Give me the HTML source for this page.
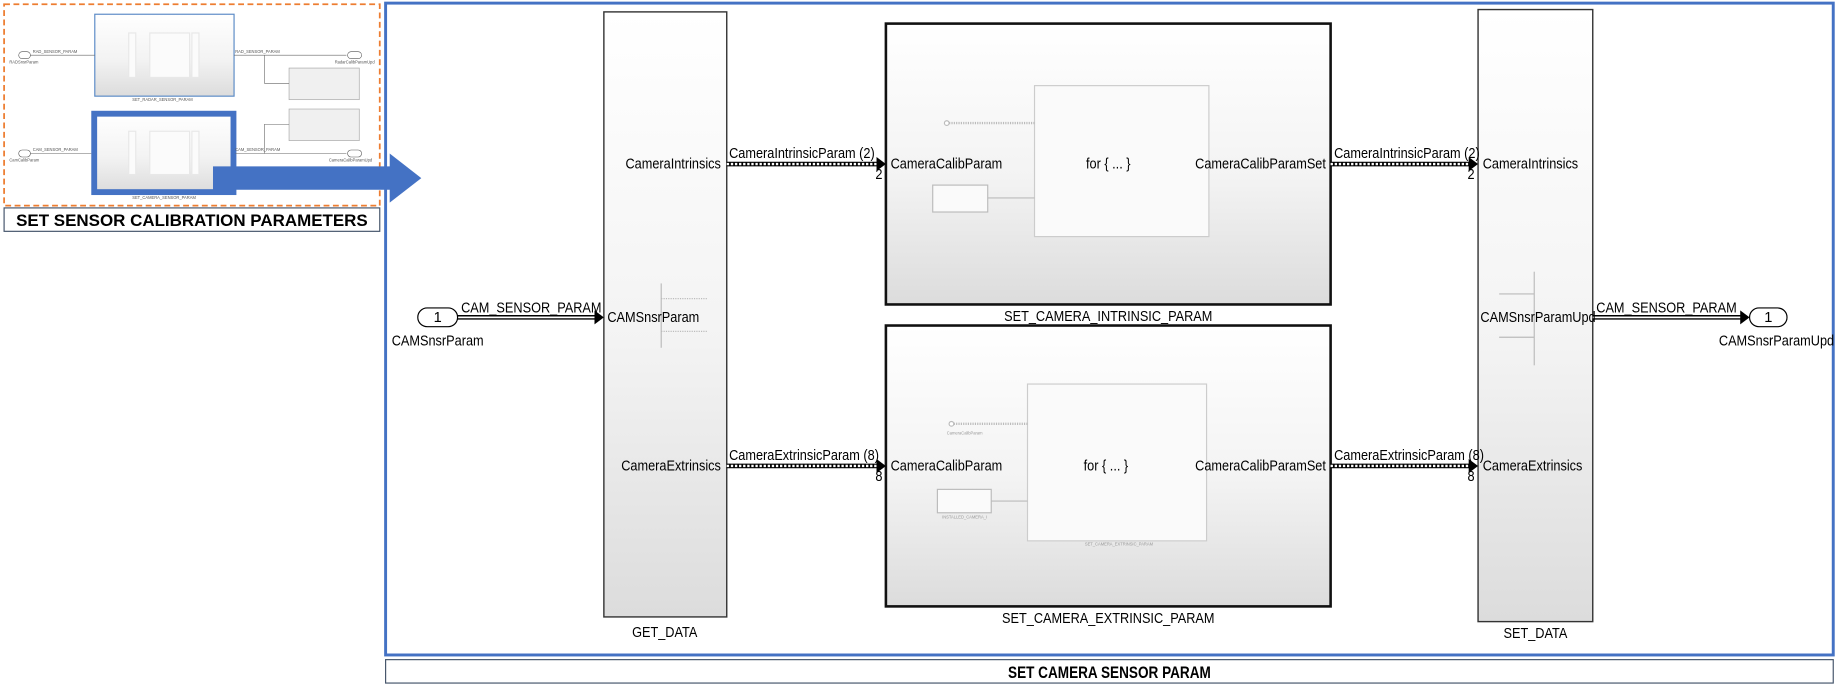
<!DOCTYPE html>
<html><head><meta charset="utf-8"><style>
html,body{margin:0;padding:0;background:#fff;}
svg{display:block;font-family:"Liberation Sans",Arial,sans-serif;}
</style></head><body>
<svg width="1835" height="685" viewBox="0 0 1568 585" xmlns="http://www.w3.org/2000/svg">
<defs>
<linearGradient id="g" x1="0" y1="0" x2="0" y2="1"><stop offset="0" stop-color="#ffffff"/><stop offset="0.55" stop-color="#f3f3f3"/><stop offset="1" stop-color="#dcdcdc"/></linearGradient>
</defs>
<rect width="1568" height="585" fill="#fff"/>

<rect x="3.5" y="3.5" width="321" height="172" fill="none" stroke="#ED7D31" stroke-width="1.5" stroke-dasharray="5,3"/>
<rect x="3.5" y="177.5" width="321" height="20" fill="#fff" stroke="#44546A" stroke-width="1"/>
<text x="164" y="193" font-size="14.5" font-weight="bold" text-anchor="middle">SET SENSOR CALIBRATION PARAMETERS</text>
<rect x="81" y="12" width="119" height="70" fill="url(#g)" stroke="#5a8ac6" stroke-width="1"/>
<rect x="110" y="28" width="6" height="38" fill="#fbfbfb" stroke="#e8e8e8"/><rect x="128" y="28" width="34" height="38" fill="#fbfbfb" stroke="#e8e8e8"/><rect x="164" y="28" width="6" height="38" fill="#fbfbfb" stroke="#e8e8e8"/>
<rect x="80.5" y="97" width="119" height="67" fill="url(#g)" stroke="#4472C4" stroke-width="5"/>
<rect x="110" y="112" width="6" height="37" fill="#fbfbfb" stroke="#e8e8e8"/><rect x="128" y="112" width="34" height="37" fill="#fbfbfb" stroke="#e8e8e8"/><rect x="164" y="112" width="6" height="37" fill="#fbfbfb" stroke="#e8e8e8"/>
<rect x="247" y="58" width="60" height="27" fill="#f0f0f0" stroke="#aaa" stroke-width="0.6"/>
<rect x="247" y="93" width="60" height="27" fill="#f0f0f0" stroke="#aaa" stroke-width="0.6"/>
<g stroke="#666" stroke-width="0.5" fill="none">
<line x1="26" y1="47" x2="81" y2="47"/><line x1="200" y1="47" x2="296" y2="47"/>
<line x1="26" y1="131" x2="78" y2="131"/><line x1="201" y1="131" x2="296" y2="131"/>
<polyline points="226,47 226,71 247,71"/><polyline points="226,131 226,106 247,106"/>
</g>
<rect x="16" y="44" width="10" height="6" rx="3" fill="#fff" stroke="#555" stroke-width="0.5"/>
<rect x="16" y="128" width="10" height="6" rx="3" fill="#fff" stroke="#555" stroke-width="0.5"/>
<rect x="297" y="44" width="12" height="6" rx="3" fill="#fff" stroke="#555" stroke-width="0.5"/>
<rect x="297" y="128" width="12" height="6" rx="3" fill="#fff" stroke="#555" stroke-width="0.5"/>
<g font-size="3.5" fill="#555">
<text x="28" y="45">RAD_SENSOR_PARAM</text><text x="8" y="54">RADSnsrParam</text>
<text x="28" y="129">CAM_SENSOR_PARAM</text><text x="8" y="138">CamCalibParam</text>
<text x="201" y="45">RAD_SENSOR_PARAM</text><text x="286" y="54">RadarCalibParamUpd</text>
<text x="201" y="129">CAM_SENSOR_PARAM</text><text x="281" y="138">CameraCalibParamUpd</text>
<text x="113" y="86">SET_RADAR_SENSOR_PARAM</text><text x="113" y="170">SET_CAMERA_SENSOR_PARAM</text>
</g>
<path d="M182,142 L333,142 L333,131 L360,152 L333,173 L333,162 L182,162 z" fill="#4472C4"/>

<rect x="329.5" y="2.5" width="1237" height="557" fill="none" stroke="#4472C4" stroke-width="2.5"/>
<rect x="329.5" y="563.5" width="1237" height="20" fill="#fff" stroke="#44546A" stroke-width="1"/>
<text transform="translate(948,579) scale(0.8,1)" font-size="14.5" font-weight="bold" text-anchor="middle">SET CAMERA SENSOR PARAM</text>

<rect x="516" y="10" width="105" height="517" fill="url(#g)" stroke="#333" stroke-width="1.2"/>
<rect x="1263" y="8" width="98" height="523" fill="url(#g)" stroke="#333" stroke-width="1.2"/>
<rect x="757" y="20" width="380" height="240" fill="url(#g)" stroke="#111" stroke-width="2.2"/>
<rect x="757" y="278" width="380" height="240" fill="url(#g)" stroke="#111" stroke-width="2.2"/>
<rect x="884" y="73" width="149" height="129" fill="#fafafa" stroke="#ccc"/>
<rect x="878" y="328" width="153" height="134" fill="#fafafa" stroke="#ccc"/>
<rect x="797" y="158" width="47" height="23" fill="#fafafa" stroke="#bbb"/>
<rect x="801" y="418" width="46" height="20" fill="#fafafa" stroke="#bbb"/>
<g stroke="#bbb" stroke-width="1" fill="none">
<line x1="844" y1="169" x2="884" y2="169"/><line x1="847" y1="428" x2="878" y2="428"/>
<line x1="811" y1="105" x2="884" y2="105" stroke-dasharray="1,1" stroke-width="2"/>
<line x1="815" y1="362" x2="878" y2="362" stroke-dasharray="1,1" stroke-width="2"/>
<line x1="565" y1="242" x2="565" y2="297"/><line x1="565" y1="255" x2="605" y2="255" stroke-dasharray="1,1"/><line x1="565" y1="283" x2="605" y2="283" stroke-dasharray="1,1"/>
<line x1="1311" y1="232" x2="1311" y2="312"/><line x1="1281" y1="251" x2="1311" y2="251"/><line x1="1281" y1="288" x2="1311" y2="288"/>
</g>
<circle cx="809" cy="105" r="2" fill="#fff" stroke="#bbb"/>
<circle cx="813" cy="362" r="2" fill="#fff" stroke="#bbb"/>

<g fill="none">
<g stroke="#000" stroke-width="4">
<line x1="621" y1="140" x2="750" y2="140"/><line x1="1137" y1="140" x2="1256" y2="140"/>
<line x1="621" y1="398" x2="750" y2="398"/><line x1="1137" y1="398" x2="1256" y2="398"/>
<line x1="391" y1="271" x2="509" y2="271"/><line x1="1361" y1="271" x2="1488" y2="271"/>
</g>
<g stroke="#fff" stroke-width="2" stroke-dasharray="2,1.5">
<line x1="621" y1="140" x2="750" y2="140"/><line x1="1137" y1="140" x2="1256" y2="140"/>
<line x1="621" y1="398" x2="750" y2="398"/><line x1="1137" y1="398" x2="1256" y2="398"/>
</g>
<g stroke="#fff" stroke-width="1.5">
<line x1="391" y1="271" x2="509" y2="271"/><line x1="1361" y1="271" x2="1488" y2="271"/>
</g>
</g>
<g fill="#000">
<path d="M749,134 L757,140 L749,146 z"/><path d="M1255,134 L1263,140 L1255,146 z"/>
<path d="M749,392 L757,398 L749,404 z"/><path d="M1255,392 L1263,398 L1255,404 z"/>
<path d="M508,265 L516,271 L508,277 z"/><path d="M1487,265 L1495,271 L1487,277 z"/>
</g>
<rect x="357" y="263" width="34" height="16" rx="8" fill="#fff" stroke="#000"/>
<rect x="1495" y="263" width="32" height="16" rx="8" fill="#fff" stroke="#000"/>

<g font-size="12.5" fill="#000">
<text x="374" y="275" text-anchor="middle">1</text><text x="1511" y="275" text-anchor="middle">1</text>
<text transform="translate(374,295) scale(0.87,1)" text-anchor="middle">CAMSnsrParam</text>
<text transform="translate(1518,295) scale(0.87,1)" text-anchor="middle">CAMSnsrParamUpd</text>
<text transform="translate(394,267) scale(0.87,1)">CAM_SENSOR_PARAM</text>
<text transform="translate(1364,267) scale(0.87,1)">CAM_SENSOR_PARAM</text>
<text transform="translate(616,144) scale(0.87,1)" text-anchor="end">CameraIntrinsics</text>
<text transform="translate(519,275) scale(0.87,1)">CAMSnsrParam</text>
<text transform="translate(616,402) scale(0.87,1)" text-anchor="end">CameraExtrinsics</text>
<text transform="translate(623,135) scale(0.87,1)">CameraIntrinsicParam (2)</text>
<text transform="translate(623,393) scale(0.87,1)">CameraExtrinsicParam (8)</text>
<text transform="translate(748,153) scale(0.87,1)">2</text><text transform="translate(748,411) scale(0.87,1)">8</text>
<text transform="translate(1140,135) scale(0.87,1)">CameraIntrinsicParam (2)</text>
<text transform="translate(1140,393) scale(0.87,1)">CameraExtrinsicParam (8)</text>
<text transform="translate(1254,153) scale(0.87,1)">2</text><text transform="translate(1254,411) scale(0.87,1)">8</text>
<text transform="translate(761,144) scale(0.87,1)">CameraCalibParam</text>
<text transform="translate(761,402) scale(0.87,1)">CameraCalibParam</text>
<text transform="translate(1133,144) scale(0.87,1)" text-anchor="end">CameraCalibParamSet</text>
<text transform="translate(1133,402) scale(0.87,1)" text-anchor="end">CameraCalibParamSet</text>
<text transform="translate(947,144) scale(0.87,1)" text-anchor="middle">for { ... }</text>
<text transform="translate(945,402) scale(0.87,1)" text-anchor="middle">for { ... }</text>
<text transform="translate(1267,144) scale(0.87,1)">CameraIntrinsics</text>
<text transform="translate(1267,402) scale(0.87,1)">CameraExtrinsics</text>
<text transform="translate(1265,275) scale(0.87,1)">CAMSnsrParamUpd</text>
<text transform="translate(947,274) scale(0.87,1)" text-anchor="middle">SET_CAMERA_INTRINSIC_PARAM</text>
<text transform="translate(947,532) scale(0.87,1)" text-anchor="middle">SET_CAMERA_EXTRINSIC_PARAM</text>
<text transform="translate(568,544) scale(0.87,1)" text-anchor="middle">GET_DATA</text>
<text transform="translate(1312,545) scale(0.87,1)" text-anchor="middle">SET_DATA</text>
</g>
<g font-size="3.5" fill="#999">
<text x="809" y="371">CameraCalibParam</text><text x="805" y="443">INSTALLED_CAMERA_I</text><text x="927" y="466">SET_CAMERA_EXTRINSIC_PARAM</text>
</g>
</svg>
</body></html>
